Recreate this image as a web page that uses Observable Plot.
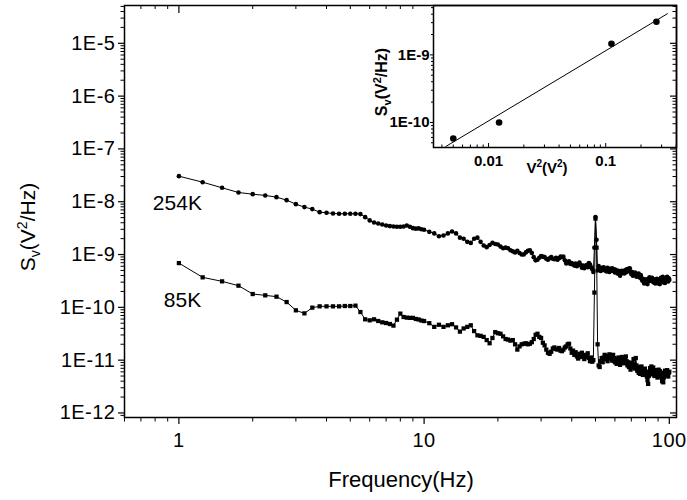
<!DOCTYPE html>
<html><head><meta charset="utf-8">
<script src="https://cdn.jsdelivr.net/npm/d3@7"></script>
<script src="https://cdn.jsdelivr.net/npm/@observablehq/plot@0.6"></script>
<style>
body{margin:0;background:#fff;}
#wrap{position:relative;width:687px;height:500px;font-family:"Liberation Sans",Arial,Helvetica,sans-serif;}
#wrap svg{position:absolute;overflow:visible;}
</style></head><body><div id="wrap"></div>
<script>
// ---- data ----
const freq = [
  1,1.25,1.5,1.75,2,2.25,2.5,2.75,3,3.25,3.5,3.75,4,4.25,4.5,4.75,5,5.25,5.5,5.75,
  6,6.25,6.5,6.75,7,7.25,7.5,7.75,8,8.25,8.5,8.75,9,9.25,9.5,9.75,10,
  10.5,11,11.5,12,12.5,13,13.5,14,14.5,15,15.5,16,16.5,17,17.5,18,18.5,19,19.5,20,
  20.5,21,21.5,22,22.5,23,23.5,24,24.5,25,25.5,26,26.5,27,27.5,28,28.5,29,29.5,30,
  30.5,31,31.5,32,32.5,33,33.5,34,34.5,35,35.5,36,36.5,37,37.5,38,38.5,39,39.5,40,
  40.5,41,41.5,42,42.5,43,43.5,44,44.5,45,45.5,46,46.5,47,47.5,48,48.5,49,49.5,50,
  50.5,51,51.5,52,52.5,53,53.5,54,54.5,55,55.5,56,56.5,57,57.5,58,58.5,59,59.5,60,
  60.5,61,61.5,62,62.5,63,63.5,64,64.5,65,65.5,66,66.5,67,67.5,68,68.5,69,69.5,70,
  70.5,71,71.5,72,72.5,73,73.5,74,74.5,75,75.5,76,76.5,77,77.5,78,78.5,79,79.5,80,
  80.5,81,81.5,82,82.5,83,83.5,84,84.5,85,85.5,86,86.5,87,87.5,88,88.5,89,89.5,90,
  90.5,91,91.5,92,92.5,93,93.5,94,94.5,95,95.5,96,96.5,97,97.5,98,98.5,99,99.5,100
];
// log10 of S_V (V^2/Hz)
const log254K = [
  -7.516,-7.630,-7.736,-7.825,-7.857,-7.881,-7.913,-7.970,-8.046,-8.102,-8.140,-8.197,-8.209,-8.222,-8.228,-8.228,-8.228,-8.228,-8.234,-8.292,
  -8.354,-8.392,-8.411,-8.430,-8.449,-8.462,-8.468,-8.474,-8.474,-8.468,-8.449,-8.474,-8.500,-8.510,-8.505,-8.520,-8.530,
  -8.57,-8.60,-8.655,-8.64,-8.60,-8.565,-8.60,-8.68,-8.70,-8.76,-8.78,-8.70,-8.68,-8.76,-8.83,-8.86,-8.82,-8.78,-8.80,-8.81,
  -8.85,-8.88,-8.87,-8.88,-8.92,-8.94,-8.96,-8.93,-8.97,-9.00,-9.00,-8.96,-8.93,-8.92,-8.97,-9.05,-9.11,-9.10,-9.06,-9.03,
  -9.04,-9.05,-9.08,-9.10,-9.07,-9.05,-9.08,-9.09,-9.06,-9.10,-9.07,-9.04,-9.05,-9.04,-9.11,-9.17,-9.15,-9.13,-9.18,-9.16,
  -9.19,-9.21,-9.17,-9.22,-9.19,-9.15,-9.20,-9.25,-9.21,-9.26,-9.23,-9.20,-9.24,-9.16,-9.19,-9.24,-9.28,-9.33,-8.87,-8.29,
  -8.72,-9.30,-9.22,-9.26,-9.31,-9.25,-9.29,-9.24,-9.30,-9.27,-9.32,-9.25,-9.29,-9.33,-9.27,-9.30,-9.26,-9.31,-9.28,-9.34,
  -9.29,-9.33,-9.36,-9.31,-9.37,-9.40,-9.34,-9.31,-9.35,-9.32,-9.36,-9.30,-9.34,-9.28,-9.32,-9.27,-9.31,-9.26,-9.32,-9.37,
  -9.33,-9.40,-9.36,-9.39,-9.34,-9.38,-9.42,-9.37,-9.41,-9.36,-9.40,-9.44,-9.39,-9.45,-9.49,-9.46,-9.51,-9.55,-9.48,-9.52,
  -9.47,-9.53,-9.56,-9.50,-9.46,-9.43,-9.49,-9.45,-9.50,-9.44,-9.48,-9.52,-9.47,-9.54,-9.49,-9.55,-9.51,-9.46,-9.52,-9.48,
  -9.55,-9.50,-9.56,-9.49,-9.44,-9.49,-9.45,-9.42,-9.48,-9.53,-9.47,-9.54,-9.49,-9.44,-9.49,-9.42,-9.47,-9.51,-9.45,-9.48
];
const log85K = [
  -9.162,-9.432,-9.508,-9.590,-9.748,-9.773,-9.798,-9.900,-10.057,-10.114,-10.006,-9.981,-9.981,-9.981,-9.981,-9.975,-9.975,-9.968,-10.089,-10.227,
  -10.246,-10.227,-10.259,-10.284,-10.297,-10.316,-10.346,-10.233,-10.119,-10.183,-10.195,-10.200,-10.200,-10.220,-10.230,-10.250,-10.260,
  -10.30,-10.37,-10.33,-10.37,-10.34,-10.32,-10.38,-10.46,-10.40,-10.37,-10.34,-10.45,-10.53,-10.54,-10.56,-10.62,-10.68,-10.58,-10.47,-10.49,
  -10.50,-10.55,-10.60,-10.61,-10.63,-10.62,-10.70,-10.80,-10.74,-10.70,-10.69,-10.68,-10.70,-10.69,-10.66,-10.60,-10.52,-10.50,-10.56,-10.58,
  -10.67,-10.72,-10.80,-10.86,-10.88,-10.84,-10.78,-10.76,-10.79,-10.80,-10.77,-10.82,-10.83,-10.80,-10.76,-10.74,-10.70,-10.69,-10.78,-10.86,
  -10.82,-10.90,-10.85,-10.93,-10.97,-10.88,-10.94,-10.86,-10.92,-10.98,-10.90,-10.94,-10.87,-10.96,-11.02,-10.95,-11.03,-11.00,-9.72,-8.32,
  -8.87,-10.70,-11.10,-11.13,-11.02,-10.96,-11.04,-10.95,-10.90,-10.98,-10.92,-11.02,-10.95,-10.89,-10.97,-10.93,-11.01,-10.90,-10.96,-11.04,
  -10.98,-11.07,-11.01,-10.95,-11.05,-11.09,-11.00,-10.94,-11.03,-10.97,-11.06,-11.00,-10.93,-11.02,-11.10,-11.04,-11.13,-11.08,-11.18,-11.12,
  -11.05,-11.14,-10.98,-11.07,-11.16,-10.96,-11.10,-11.20,-11.13,-11.24,-11.17,-11.26,-11.19,-11.12,-11.21,-11.28,-11.18,-11.25,-11.16,-11.27,
  -11.22,-11.31,-11.38,-11.45,-11.30,-11.22,-11.15,-11.24,-11.12,-11.20,-11.27,-11.14,-11.23,-11.30,-11.21,-11.28,-11.19,-11.26,-11.33,-11.24,
  -11.18,-11.27,-11.21,-11.30,-11.24,-11.33,-11.40,-11.36,-11.42,-11.33,-11.26,-11.20,-11.28,-11.21,-11.27,-11.19,-11.25,-11.31,-11.24,-11.22
];
const seriesNames = ["254K", "85K"];
const labelF = [0.783, 0.868];
const labelS = [9.4e-9, 1.39e-10];

// inset: S_V versus V^2
const insetV2 = [0.0050, 0.0123, 0.112, 0.271];
const insetSv = [5.8e-11, 1.0e-10, 1.46e-9, 3.09e-9];
const fitV2 = [0.00432, 0.336];
const fitSv = [4.41e-11, 4.06e-9];

// ticks
const mainYTicks = [1e-12,1e-11,1e-10,1e-9,1e-8,1e-7,1e-6,1e-5];
const mainXTicks = [1, 10, 100];
const mainXTickLabels = ["1", "10", "100"];
const insetXTicks = [0.01, 0.1];
const insetXTickLabels = ["0.01", "0.1"];
const insetYTicks = [1e-10, 1e-9];

// ---- build ----
const FONT = '"Liberation Sans", Arial, Helvetica, sans-serif';
const d254 = freq.map((f, i) => ({f, s: Math.pow(10, log254K[i])}));
const d85 = freq.map((f, i) => ({f, s: Math.pow(10, log85K[i])}));
const labels = seriesNames.map((t, i) => ({t, f: labelF[i], s: labelS[i]}));
const insetPts = insetV2.map((v, i) => ({v, s: insetSv[i]}));
const fitPts = fitV2.map((v, i) => ({v, s: fitSv[i]}));

function minorLog(lo, hi) {
  const out = [];
  for (let e = Math.floor(Math.log10(lo)) - 1; e <= Math.ceil(Math.log10(hi)); e++)
    for (let k = 2; k <= 9; k++) { const v = k * Math.pow(10, e); if (v >= lo && v <= hi) out.push(+v.toPrecision(3)); }
  return out;
}
const yDom = [8.2e-13, 5.2e-5], xDom = [0.6, 107];
const W = 687, H = 500, mL = 124, mR = 11, mT = 5, mB = 83;
const iW = W - mL - mR, iH = H - mT - mB;
const yMinor = minorLog(yDom[0], yDom[1]);
const xMinor = minorLog(xDom[0], xDom[1]);
const expFmt = d => "1E" + Math.round(Math.log10(d));

const main = Plot.plot({
  width: W, height: H, marginLeft: mL, marginRight: mR, marginTop: mT, marginBottom: mB,
  style: {fontFamily: FONT, color: "black", background: "transparent", overflow: "visible"},
  x: {type: "log", domain: xDom},
  y: {type: "log", domain: yDom},
  marks: [
    Plot.axisY(mainYTicks, {anchor: "left", tickSize: 6, tickPadding: 3, tickFormat: expFmt, fontSize: 20, label: null, strokeWidth: 1.2}),
    Plot.axisY(yMinor, {anchor: "left", tickSize: 3.5, tickFormat: () => "", label: null}),
    Plot.axisX(mainXTicks, {anchor: "bottom", tickSize: 7, tickPadding: 8, tickFormat: d => mainXTickLabels[mainXTicks.indexOf(d)], fontSize: 20, label: null, strokeWidth: 1.2}),
    Plot.axisX(xMinor, {anchor: "bottom", tickSize: 4.5, tickFormat: () => "", label: null}),
    // inward ticks on top (left of the inset) and right
    Plot.tickX(mainXTicks.filter(d => d < 10), {insetBottom: iH - 8, stroke: "black", strokeWidth: 1.2}),
    Plot.tickX(xMinor.filter(d => d < 10), {insetBottom: iH - 4, stroke: "black"}),
    Plot.tickY(mainYTicks, {insetLeft: iW - 6, stroke: "black", strokeWidth: 1.2}),
    Plot.tickY(yMinor, {insetLeft: iW - 3.5, stroke: "black"}),
    Plot.frame({stroke: "black", strokeWidth: 1.5}),
    Plot.line(d254, {x: "f", y: "s", stroke: "black", strokeWidth: 1}),
    Plot.dot(d254, {x: "f", y: "s", r: 2.3, fill: "black", stroke: "none"}),
    Plot.line(d85, {x: "f", y: "s", stroke: "black", strokeWidth: 1}),
    Plot.dot(d85, {x: "f", y: "s", symbol: "square", r: 2.4, fill: "black", stroke: "none"}),
    Plot.text(labels, {x: "f", y: "s", text: "t", textAnchor: "start", fontSize: 21, fill: "black"})
  ]
});

const iw = 307, ih = 185, imL = 53, imR = 11, imT = 5, imB = 38;
const iiW = iw - imL - imR, iiH = ih - imT - imB;
const ixDom = [0.00339, 0.402], iyDom = [4.26e-11, 5.38e-9];
const inset = Plot.plot({
  width: iw, height: ih, marginLeft: imL, marginRight: imR, marginTop: imT, marginBottom: imB,
  style: {fontFamily: FONT, color: "black", background: "white", overflow: "visible"},
  x: {type: "log", domain: ixDom},
  y: {type: "log", domain: iyDom},
  marks: [
    Plot.frame({stroke: "black", strokeWidth: 1.5}),
    Plot.axisY(insetYTicks, {anchor: "left", tickSize: 3, tickPadding: 1, tickFormat: expFmt, fontSize: 15, fontWeight: "bold", label: null}),
    Plot.axisY(minorLog(iyDom[0], iyDom[1]), {anchor: "left", tickSize: 2, tickFormat: () => "", label: null}),
    Plot.axisX(insetXTicks, {anchor: "bottom", tickSize: 0, tickPadding: 8, tickFormat: d => insetXTickLabels[insetXTicks.indexOf(d)], fontSize: 15, fontWeight: "bold", label: null}),
    Plot.tickX(insetXTicks, {insetTop: iiH - 4, stroke: "black"}),
    Plot.tickX(minorLog(ixDom[0], ixDom[1]), {insetTop: iiH - 2.5, stroke: "black"}),
    Plot.line(fitPts, {x: "v", y: "s", stroke: "black", strokeWidth: 1}),
    Plot.dot(insetPts, {x: "v", y: "s", r: 3.3, fill: "black", stroke: "none"})
  ]
});

const wrap = document.getElementById("wrap");
inset.style.left = "380px"; inset.style.top = "0px";
main.style.left = "0px"; main.style.top = "0px";
wrap.appendChild(inset);
wrap.appendChild(main);

d3.select(main).selectAll('g[aria-label="y-axis tick label"] text, g[aria-label="x-axis tick label"] text').style("letter-spacing", "0.5px");

// axis titles with sub/superscripts
function richTitle(sel, parts, size) {
  parts.forEach(p => sel.append("tspan").attr("font-size", p.size || size).attr("dy", p.dy || 0).text(p.t));
}
const ms = d3.select(main);
ms.append("text").attr("x", 401).attr("y", 487).attr("text-anchor", "middle")
  .attr("font-size", 22).attr("fill", "black").text("Frequency(Hz)");
const yt = ms.append("text").attr("transform", "translate(35,227) rotate(-90)")
  .attr("text-anchor", "middle").attr("font-size", 21).attr("fill", "black");
richTitle(yt, [{t: "S"}, {t: "v", size: 14, dy: 5}, {t: "(V", dy: -5}, {t: "2", size: 14, dy: -8}, {t: "/Hz)", dy: 8}], 21);

const is = d3.select(inset);
const ixt = is.append("text").attr("x", 167).attr("y", 173).attr("text-anchor", "middle")
  .attr("font-size", 15).attr("font-weight", "bold").attr("fill", "black");
richTitle(ixt, [{t: "V"}, {t: "2", size: 10, dy: -6}, {t: "(V", dy: 6}, {t: "2", size: 10, dy: -6}, {t: ")", dy: 6}], 15);
const iyt = is.append("text").attr("transform", "translate(7,82) rotate(-90)")
  .attr("text-anchor", "middle").attr("font-size", 16).attr("font-weight", "bold").attr("fill", "black");
richTitle(iyt, [{t: "S"}, {t: "v", size: 11, dy: 4}, {t: "(V", dy: -4}, {t: "2", size: 11, dy: -6}, {t: "/Hz)", dy: 6}], 16);
</script></body></html>
